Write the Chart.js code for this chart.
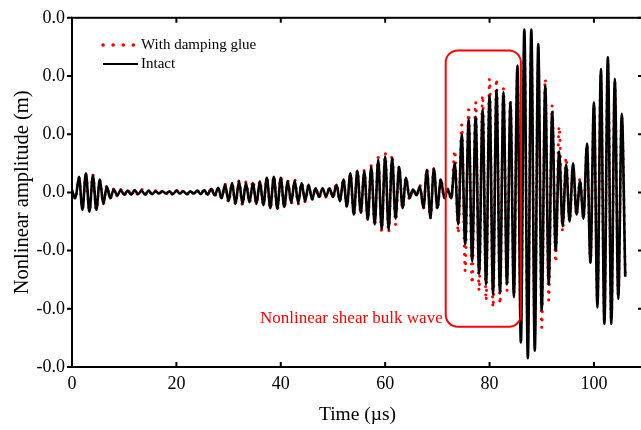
<!DOCTYPE html>
<html>
<head>
<meta charset="utf-8">
<script src="https://cdn.jsdelivr.net/npm/chart.js@4/dist/chart.umd.min.js"></script>
<style>
  html, body { margin: 0; padding: 0; background: #fff; overflow: hidden; }
  #wrap { width: 660px; height: 430px; }
</style>
</head>
<body>
<div id="wrap"><canvas id="waveChart" width="660" height="430"></canvas></div>
<script>
// Amplitudes in units of 0.01 m, one peak and one trough per cycle.
// Samples are taken every half cycle (HALF_PERIOD microseconds).
const HALF_PERIOD = 2 / 3;

const intactPeaks = [
    0.03, 0.27, 0.33, 0.29, 0.22, 0.10, 0.05, 0.04, 0.03, 0.04,
    0.03, 0.03, 0.02, 0.02, 0.02, 0.03, 0.02, 0.02, 0.03, 0.04,
    0.06, 0.08, 0.13, 0.16, 0.19, 0.16, 0.16, 0.19, 0.25, 0.27,
    0.25, 0.19, 0.20, 0.16, 0.13, 0.07, 0.07, 0.07, 0.13, 0.22,
    0.33, 0.37, 0.36, 0.44, 0.56, 0.62, 0.59, 0.44, 0.25, 0.05,
    0.10, 0.39, 0.41, 0.22, 0.05, 0.50, 1.00, 1.25, 1.30, 1.42,
    1.67, 1.76, 1.72, 1.55, 2.18, 2.80, 2.80, 2.55, 1.84, 1.38,
    0.70, 0.48, 0.50, 0.19, 0.84, 1.55, 2.12, 2.32, 1.95, 1.35
];
const intactTroughs = [
    -0.10, -0.30, -0.33, -0.30, -0.20, -0.10, -0.05, -0.04, -0.04, -0.03,
    -0.04, -0.03, -0.02, -0.02, -0.03, -0.02, -0.03, -0.02, -0.03, -0.04,
    -0.05, -0.10, -0.15, -0.20, -0.20, -0.17, -0.20, -0.22, -0.27, -0.28,
    -0.25, -0.18, -0.18, -0.15, -0.12, -0.08, -0.07, -0.08, -0.15, -0.24,
    -0.38, -0.35, -0.47, -0.55, -0.64, -0.64, -0.45, -0.27, -0.10, -0.05,
    -0.27, -0.44, -0.27, -0.10, -0.10, -0.55, -0.89, -1.18, -1.40, -1.58,
    -1.75, -1.73, -1.58, -1.80, -2.58, -2.85, -2.72, -2.03, -1.58, -1.00,
    -0.58, -0.50, -0.38, -0.45, -1.21, -1.98, -2.26, -2.26, -1.83, -1.45
];
const gluePeaks = [
    0.04, 0.25, 0.30, 0.30, 0.20, 0.12, 0.06, 0.05, 0.05, 0.04,
    0.05, 0.04, 0.03, 0.03, 0.03, 0.04, 0.03, 0.04, 0.03, 0.06,
    0.09, 0.07, 0.14, 0.15, 0.20, 0.18, 0.20, 0.20, 0.24, 0.28,
    0.26, 0.20, 0.22, 0.17, 0.12, 0.08, 0.06, 0.08, 0.15, 0.24,
    0.32, 0.38, 0.38, 0.46, 0.60, 0.68, 0.65, 0.45, 0.26, 0.06,
    0.12, 0.40, 0.42, 0.24, 0.06, 0.72, 1.16, 1.42, 1.55, 1.67,
    1.95, 1.95, 1.78, 1.60, 2.00, 2.45, 2.50, 2.30, 1.95, 1.50,
    1.13, 0.60, 0.40, 0.25, 0.82, 1.50, 2.00, 2.20, 1.90, 1.30
];
const glueTroughs = [
    -0.12, -0.28, -0.32, -0.30, -0.20, -0.10, -0.06, -0.05, -0.06, -0.04,
    -0.05, -0.04, -0.03, -0.03, -0.04, -0.03, -0.04, -0.03, -0.04, -0.06,
    -0.07, -0.10, -0.17, -0.20, -0.22, -0.18, -0.20, -0.22, -0.28, -0.30,
    -0.26, -0.20, -0.20, -0.16, -0.12, -0.09, -0.08, -0.09, -0.16, -0.26,
    -0.40, -0.37, -0.48, -0.58, -0.67, -0.69, -0.55, -0.28, -0.12, -0.06,
    -0.28, -0.45, -0.30, -0.10, -0.12, -0.70, -1.35, -1.57, -1.69, -1.86,
    -1.98, -1.92, -1.69, -1.75, -2.30, -2.50, -2.45, -2.32, -1.85, -1.20,
    -0.67, -0.50, -0.40, -0.46, -1.20, -1.90, -2.20, -2.20, -1.80, -1.40
];

const xTicks = [0, 20, 40, 60, 80, 100];
const yTicks = [-3, -2, -1, 0, 1, 2, 3];

// Highlight box around the shear bulk wave (time in us, amplitude in 0.01 m)
const boxTime = [71.6, 86.0];
const boxAmp = [-2.31, 2.44];

const SERIF = '"Liberation Serif", "Times New Roman", serif';

function buildSeries(peaks, troughs) {
    const pts = [];
    peaks.forEach((p, i) => {
        pts.push({ x: 2 * i * HALF_PERIOD, y: p });
        pts.push({ x: (2 * i + 1) * HALF_PERIOD, y: troughs[i] });
    });
    return pts;
}

// Frame, mirrored ticks, legend and the annotation
const decorations = {
    id: 'decorations',
    afterDatasetsDraw(chart) {
        const { ctx, chartArea: a, scales: { x, y } } = chart;
        ctx.save();

        // annotation box
        const bx1 = x.getPixelForValue(boxTime[0]);
        const bx2 = x.getPixelForValue(boxTime[1]);
        const by1 = y.getPixelForValue(boxAmp[1]);
        const by2 = y.getPixelForValue(boxAmp[0]);
        ctx.strokeStyle = '#ff0000';
        ctx.lineWidth = 2;
        ctx.beginPath();
        ctx.roundRect(bx1, by1, bx2 - bx1, by2 - by1, 12);
        ctx.stroke();

        ctx.fillStyle = '#ff0000';
        ctx.font = '17px ' + SERIF;
        ctx.textAlign = 'right';
        ctx.textBaseline = 'alphabetic';
        ctx.fillText('Nonlinear shear bulk wave', bx1 - 3, by2 - 4);

        // frame
        ctx.strokeStyle = '#000';
        ctx.lineWidth = 2;
        ctx.strokeRect(a.left, a.top, a.right - a.left, a.bottom - a.top);

        ctx.beginPath();
        xTicks.forEach(v => {
            const px = x.getPixelForValue(v);
            ctx.moveTo(px, a.bottom);
            ctx.lineTo(px, a.bottom - 5);
            ctx.moveTo(px, a.top);
            ctx.lineTo(px, a.top + 5);
        });
        yTicks.forEach(v => {
            const py = y.getPixelForValue(v);
            ctx.moveTo(a.left, py);
            ctx.lineTo(a.left - 5, py);
            ctx.moveTo(a.right, py);
            ctx.lineTo(a.right - 5, py);
        });
        ctx.stroke();

        // legend
        const lx = a.left + 29;
        ctx.lineCap = 'round';
        ctx.strokeStyle = '#ff0000';
        ctx.lineWidth = 3.5;
        ctx.setLineDash([0.1, 10]);
        ctx.beginPath();
        ctx.moveTo(lx + 2, 45);
        ctx.lineTo(lx + 36, 45);
        ctx.stroke();
        ctx.setLineDash([]);
        ctx.lineCap = 'butt';
        ctx.strokeStyle = '#000';
        ctx.lineWidth = 2;
        ctx.beginPath();
        ctx.moveTo(lx + 2, 64);
        ctx.lineTo(lx + 37, 64);
        ctx.stroke();

        ctx.fillStyle = '#000';
        ctx.font = '15px ' + SERIF;
        ctx.textAlign = 'left';
        ctx.textBaseline = 'middle';
        ctx.fillText('With damping glue', lx + 40, 45);
        ctx.fillText('Intact', lx + 40, 64);

        ctx.restore();
    }
};

document.addEventListener('DOMContentLoaded', function() {
    const ctx = document.getElementById('waveChart').getContext('2d');

    new Chart(ctx, {
        type: 'line',
        data: {
            datasets: [
                {
                    label: 'With damping glue',
                    data: buildSeries(gluePeaks, glueTroughs),
                    borderColor: '#ff0000',
                    borderWidth: 3,
                    borderDash: [0.1, 8],
                    borderCapStyle: 'round',
                    cubicInterpolationMode: 'monotone',
                    pointRadius: 0,
                    order: 2
                },
                {
                    label: 'Intact',
                    data: buildSeries(intactPeaks, intactTroughs),
                    borderColor: '#000',
                    borderWidth: 2.6,
                    cubicInterpolationMode: 'monotone',
                    pointRadius: 0,
                    order: 1
                }
            ]
        },
        options: {
            responsive: false,
            animation: false,
            devicePixelRatio: 1,
            layout: { padding: { top: 16, right: 17, left: 0, bottom: 0 } },
            plugins: {
                legend: { display: false },
                tooltip: { enabled: false }
            },
            scales: {
                x: {
                    type: 'linear',
                    min: 0,
                    max: 109.4,
                    grid: { display: false, drawTicks: false },
                    border: { display: false },
                    afterFit: s => { s.height = 63; },
                    afterBuildTicks: s => { s.ticks = xTicks.map(v => ({ value: v })); },
                    ticks: {
                        padding: 6,
                        color: '#000',
                        maxRotation: 0,
                        font: { family: SERIF, size: 18 },
                        callback: v => String(v)
                    },
                    title: {
                        display: true,
                        text: 'Time (\u00b5s)',
                        color: '#000',
                        font: { family: SERIF, size: 19.5 },
                        padding: { top: 0, bottom: 3 }
                    }
                },
                y: {
                    min: -3,
                    max: 3,
                    grid: { display: false, drawTicks: false },
                    border: { display: false },
                    afterFit: s => { s.width = 72; },
                    afterBuildTicks: s => { s.ticks = yTicks.map(v => ({ value: v })); },
                    ticks: {
                        padding: 7,
                        color: '#000',
                        font: { family: SERIF, size: 18 },
                        // values are in 0.01 m, labelled in metres with one decimal
                        callback: v => (v * 0.01).toFixed(1)
                    },
                    title: {
                        display: true,
                        text: 'Nonlinear amplitude (m)',
                        color: '#000',
                        font: { family: SERIF, size: 20.5 },
                        padding: { top: 10, bottom: 0 }
                    }
                }
            }
        },
        plugins: [decorations]
    });
});
</script>
</body>
</html>
